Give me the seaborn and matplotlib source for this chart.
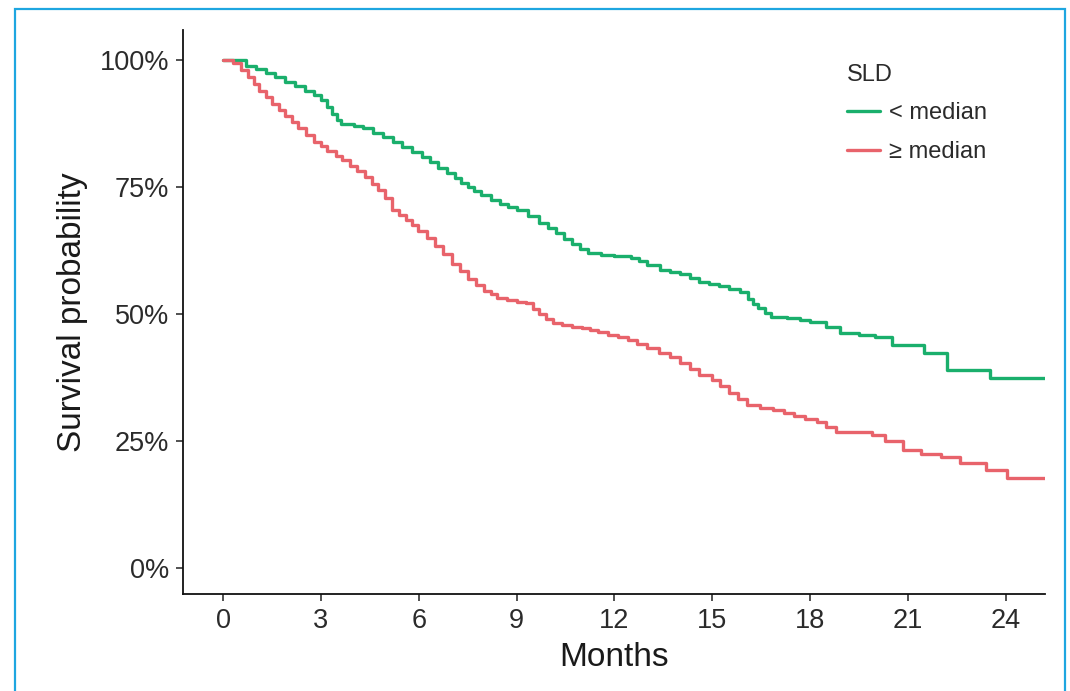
import numpy as np
import matplotlib.pyplot as plt
import matplotlib.patches as mpatches
import pandas as pd
import seaborn as sns

# Kaplan-Meier step points (months, survival %)
green_t = [0, 0.5, 0.7, 1.0, 1.3, 1.6, 1.9, 2.2, 2.5, 2.8, 3.0, 3.2, 3.35, 3.5, 3.6, 4.0, 4.3,
           4.6, 4.9, 5.2, 5.5, 5.8, 6.1, 6.35, 6.6, 6.85, 7.1, 7.3, 7.5, 7.7, 7.9, 8.2, 8.5,
           8.75, 9.0, 9.35, 9.7, 9.95, 10.2, 10.45, 10.7, 10.95, 11.2, 11.6, 12.0, 12.5,
           12.75, 13.0, 13.4, 13.7, 14.0, 14.3, 14.6, 14.9, 15.2, 15.5, 15.85, 16.1, 16.25,
           16.4, 16.6, 16.8, 17.3, 17.7, 18.0, 18.5, 18.9, 19.5, 20.0, 20.5, 21.5, 22.2,
           23.5, 25.2]
green_s = [100, 100, 99.0, 98.3, 97.5, 96.7, 95.8, 95.0, 94.0, 93.2, 92.2, 90.8, 89.5, 88.2,
           87.5, 87.0, 86.6, 85.8, 85.0, 84.0, 83.0, 82.0, 80.9, 79.9, 78.9, 77.8, 76.8, 75.9,
           75.0, 74.2, 73.4, 72.6, 71.8, 71.1, 70.5, 69.3, 67.9, 67.0, 66.0, 64.9, 63.8, 62.8,
           62.0, 61.7, 61.4, 61.0, 60.4, 59.8, 58.7, 58.3, 58.0, 57.2, 56.3, 56.0, 55.6, 55.0,
           54.3, 53.0, 52.1, 51.2, 50.3, 49.4, 49.2, 48.9, 48.4, 47.5, 46.3, 45.9, 45.5, 43.9,
           42.3, 39.0, 37.4, 37.4]
red_t = [0, 0.3, 0.55, 0.77, 0.95, 1.1, 1.3, 1.5, 1.7, 1.9, 2.1, 2.3, 2.55, 2.8, 3.0, 3.2,
         3.45, 3.65, 3.9, 4.1, 4.35, 4.55, 4.75, 4.97, 5.18, 5.4, 5.6, 5.8, 5.98, 6.25, 6.5,
         6.75, 7.02, 7.25, 7.5, 7.75, 8.0, 8.2, 8.4, 8.7, 9.0, 9.3, 9.5, 9.7, 9.9, 10.1, 10.4,
         10.7, 11.0, 11.25, 11.5, 11.8, 12.1, 12.4, 12.7, 13.0, 13.35, 13.7, 14.0, 14.3, 14.6,
         15.0, 15.25, 15.5, 15.8, 16.06, 16.45, 16.86, 17.2, 17.5, 17.85, 18.2, 18.5, 18.8,
         19.9, 20.3, 20.85, 21.4, 22.0, 22.6, 23.4, 24.05, 25.2]
red_s = [100, 99.5, 98.2, 96.7, 95.3, 94.0, 92.8, 91.5, 90.2, 89.0, 87.8, 86.6, 85.3, 84.0,
         83.1, 82.2, 81.2, 80.3, 79.2, 78.2, 77.0, 75.7, 74.4, 73.0, 70.5, 69.5, 68.5, 67.5,
         66.5, 65.0, 63.5, 61.8, 60.0, 58.5, 57.0, 55.7, 54.5, 53.9, 53.3, 52.9, 52.5, 52.2,
         51.0, 50.0, 49.1, 48.2, 47.8, 47.5, 47.2, 46.9, 46.5, 46.0, 45.5, 44.9, 44.1, 43.3,
         42.4, 41.5, 40.4, 39.2, 38.0, 37.0, 35.8, 34.5, 33.3, 32.1, 31.6, 31.1, 30.6, 30.0,
         29.4, 28.7, 27.7, 26.8, 26.2, 25.0, 23.2, 22.5, 21.8, 20.7, 19.3, 17.7, 17.7]

groups = ["< median", "\u2265 median"]
colors = ["#1aaf6c", "#e8636b"]
x_ticks = [0, 3, 6, 9, 12, 15, 18, 21, 24]
y_ticks = [0, 25, 50, 75, 100]

df = pd.concat([
    pd.DataFrame({"Months": green_t, "surv": np.array(green_s) / 100, "SLD": groups[0]}),
    pd.DataFrame({"Months": red_t, "surv": np.array(red_s) / 100, "SLD": groups[1]}),
])

sns.set_style("white")
plt.rcParams['font.family'] = ['Liberation Sans', 'DejaVu Sans']

fig = plt.figure(figsize=(10.7, 6.91), dpi=100)
ax = fig.add_axes([183 / 1070, 97 / 691, 862 / 1070, 564 / 691])

sns.lineplot(data=df, x="Months", y="surv", hue="SLD", hue_order=groups,
             palette=colors, estimator=None, sort=True, drawstyle="steps-post",
             linewidth=2.4, ax=ax)

ax.set_xlim(-1.23, 25.2)
ax.set_ylim(-0.051, 1.06)
ax.set_xticks(x_ticks)
ax.set_xticklabels([str(t) for t in x_ticks])
ax.set_yticks([v / 100 for v in y_ticks])
ax.set_yticklabels([f"{v}%" for v in y_ticks])
ax.tick_params(axis="both", direction="out", length=5, width=1.1, color="#222222",
               labelsize=19.5, labelcolor="#2b2b2b", pad=5, left=True, bottom=True)
ax.set_xlabel("Months", fontsize=24, color="#1a1a1a", labelpad=6)
ax.set_ylabel("Survival probability", fontsize=24, color="#1a1a1a", labelpad=8)
for s in ["top", "right"]:
    ax.spines[s].set_visible(False)
for s in ["left", "bottom"]:
    ax.spines[s].set_color("#111111")
    ax.spines[s].set_linewidth(1.3)

leg = ax.legend(title="SLD", loc="upper left", bbox_to_anchor=(828 / 1070, 1 - 45 / 691),
                bbox_transform=fig.transFigure, frameon=False, fontsize=17,
                title_fontsize=17, handlelength=1.4, handletextpad=0.4,
                labelspacing=0.7, alignment="left", borderpad=0.3)
for t in leg.get_texts():
    t.set_color("#2b2b2b")
leg.get_title().set_color("#2b2b2b")

# light blue frame around the figure
fig.patches.append(mpatches.Rectangle((15 / 1070, -0.02), 1050 / 1070, (691 - 9) / 691 + 0.02,
                                      transform=fig.transFigure, fill=False,
                                      edgecolor="#1ea6e0", linewidth=1.6))

fig.savefig("out.png", dpi=100, facecolor="white")
